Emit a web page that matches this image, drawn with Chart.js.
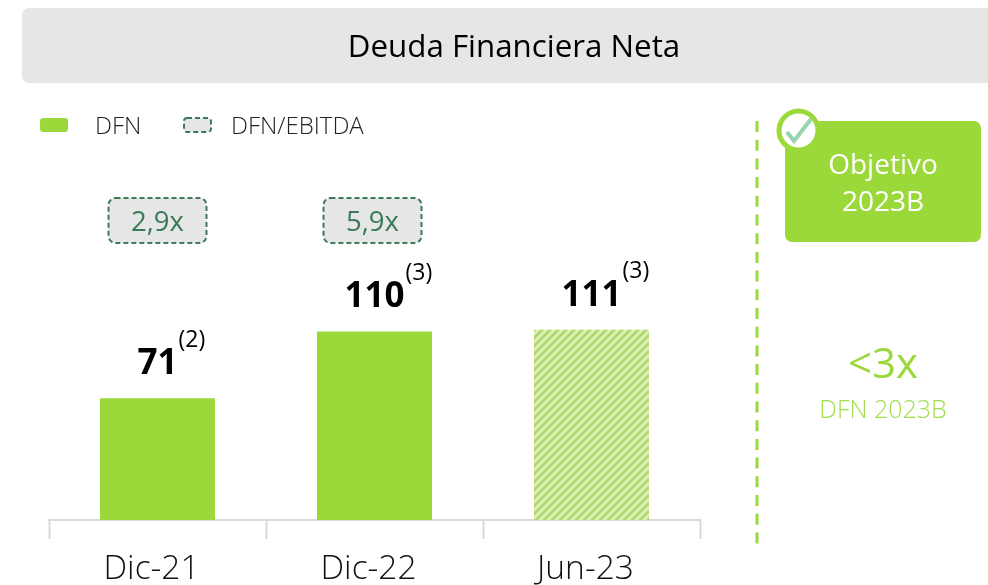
<!DOCTYPE html>
<html>
<head>
<meta charset="utf-8">
<style>
  html, body { margin: 0; padding: 0; background: #fff; overflow: hidden; }
  canvas { display: block; }
</style>
<script src="https://cdn.jsdelivr.net/npm/chart.js@4"></script>
</head>
<body>
<canvas id="deuda" width="988" height="585"></canvas>
<script>
const categories = ["Dic-21", "Dic-22", "Jun-23"];
const dfnValues = [71, 110, 111];
const dfnNotes = ["(2)", "(3)", "(3)"];
const ratioLabels = ["2,9x", "5,9x", null];
const seriesNames = ["DFN", "DFN/EBITDA"];

const GREEN = "#9bd93a";
const DARK_GREEN = "#3b7a57";
const GREY = "#e6e6e6";
const FONT = '"Open Sans", sans-serif';

// stripes for the Jun-23 bar
function stripes() {
  const c = document.createElement("canvas");
  c.width = 8;
  c.height = 8;
  const g = c.getContext("2d");
  g.fillStyle = "#dff1b8";
  g.fillRect(0, 0, 8, 8);
  g.strokeStyle = "#aed96f";
  g.lineWidth = 3;
  g.beginPath();
  g.moveTo(-2, 2); g.lineTo(2, -2);
  g.moveTo(-2, 10); g.lineTo(10, -2);
  g.moveTo(6, 10); g.lineTo(10, 6);
  g.stroke();
  return g.createPattern(c, "repeat");
}

function box(ctx, x, y, w, h, r, fill, dashed) {
  ctx.save();
  ctx.beginPath();
  ctx.roundRect(x, y, w, h, r);
  ctx.fillStyle = fill;
  ctx.fill();
  if (dashed) {
    ctx.strokeStyle = DARK_GREEN;
    ctx.lineWidth = 2;
    ctx.setLineDash(dashed);
    ctx.stroke();
  }
  ctx.restore();
}

function text(ctx, str, x, y, font, color, align) {
  ctx.font = font;
  ctx.fillStyle = color;
  ctx.textAlign = align || "center";
  ctx.textBaseline = "middle";
  ctx.fillText(str, x, y);
}

const extras = {
  id: "extras",
  afterDraw(chart) {
    const ctx = chart.ctx;
    const xs = chart.scales.x;
    const bars = chart.getDatasetMeta(0).data;
    ctx.save();

    // title band
    box(ctx, 22, 8, 975, 75, 7, GREY);
    text(ctx, "Deuda Financiera Neta", 514, 48, "400 31.3px " + FONT, "#000");

    // legend
    box(ctx, 40, 118, 28, 14, 3, GREEN);
    text(ctx, seriesNames[0], 95, 127, "300 24px " + FONT, "#222", "left");
    box(ctx, 184, 118, 27, 14, 3, GREY, [5, 3]);
    text(ctx, seriesNames[1], 231, 127, "300 24px " + FONT, "#222", "left");

    // ratio boxes and value labels
    categories.forEach((c, i) => {
      const cx = xs.getPixelForValue(i);
      if (ratioLabels[i]) {
        box(ctx, cx - 49 - 2 * i, 198, 98, 45, 7, GREY, [5, 3]);
        text(ctx, ratioLabels[i], cx - 2 * i, 223, "400 27.5px " + FONT, DARK_GREEN);
      }
      const top = bars[i].y;
      const label = String(dfnValues[i]);
      text(ctx, label, cx, top - 34, "700 35px " + FONT, "#000");
      const half = ctx.measureText(label).width / 2;
      text(ctx, dfnNotes[i], cx + half + 1, top - 58, "400 23px " + FONT, "#000", "left");
    });

    // divider
    ctx.strokeStyle = GREEN;
    ctx.lineWidth = 3;
    ctx.setLineDash([11, 7.7]);
    ctx.beginPath();
    ctx.moveTo(757, 121);
    ctx.lineTo(757, 545);
    ctx.stroke();
    ctx.setLineDash([]);

    // objective panel
    box(ctx, 785, 121, 196, 121, 7, GREEN);
    ctx.fillStyle = GREEN;
    ctx.beginPath();
    ctx.arc(798.5, 130.5, 22, 0, Math.PI * 2);
    ctx.fill();
    ctx.fillStyle = "#fff";
    ctx.beginPath();
    ctx.arc(798.5, 130.5, 17, 0, Math.PI * 2);
    ctx.fill();
    ctx.strokeStyle = "#98d4b0";
    ctx.lineWidth = 4;
    ctx.beginPath();
    ctx.moveTo(787, 132);
    ctx.lineTo(794, 141);
    ctx.lineTo(811, 119);
    ctx.stroke();

    text(ctx, "Objetivo", 883, 166, "400 28px " + FONT, "#fff");
    text(ctx, "2023B", 883, 203, "400 28px " + FONT, "#fff");
    text(ctx, "<3x", 883, 366, "400 42px " + FONT, GREEN);
    text(ctx, "DFN 2023B", 883, 411, "300 25px " + FONT, "#a0dd50");

    ctx.restore();
  }
};

new Chart(document.getElementById("deuda"), {
  type: "bar",
  data: {
    labels: categories,
    datasets: [{
      label: seriesNames[0],
      data: dfnValues,
      backgroundColor: [GREEN, GREEN, stripes()],
      borderWidth: 0,
      categoryPercentage: 1,
      barPercentage: 0.53
    }]
  },
  options: {
    responsive: false,
    animation: false,
    layout: { padding: { left: 49, right: 288, top: 40, bottom: 0 } },
    plugins: {
      legend: { display: false },
      title: { display: false },
      tooltip: { enabled: false }
    },
    scales: {
      x: {
        afterFit(scale) { scale.height = 65; },
        grid: {
          offset: true,
          drawOnChartArea: false,
          drawTicks: true,
          tickLength: 19,
          tickColor: "#d9d9d9",
          tickWidth: 2
        },
        border: { color: "#d9d9d9", width: 2 },
        ticks: {
          color: "#111",
          padding: 14,
          maxRotation: 0,
          labelOffset: -6,
          font: { family: "Open Sans", size: 33.5, weight: "300", lineHeight: 1 }
        }
      },
      y: {
        display: false,
        min: 0,
        max: 280
      }
    }
  },
  plugins: [extras]
});
</script>
</body>
</html>
